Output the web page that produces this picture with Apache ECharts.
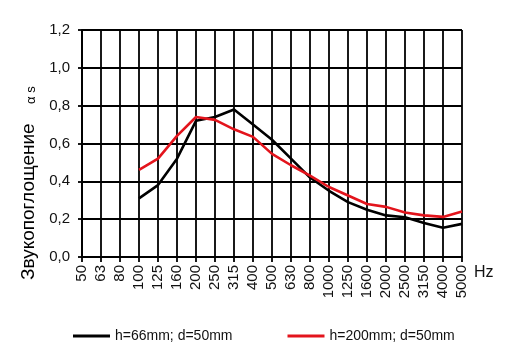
<!DOCTYPE html>
<html>
<head>
<meta charset="utf-8">
<script src="https://cdn.jsdelivr.net/npm/echarts@6/dist/echarts.min.js"></script>
<style>html,body{margin:0;padding:0;background:#fff;}#c{width:509px;height:363px;}</style>
</head>
<body>
<div id="c"></div>
<script>
const categories = ['50','63','80','100','125','160','200','250','315','400','500','630','800','1000','1250','1600','2000','2500','3150','4000','5000'];
const seriesNames = ['h=66mm; d=50mm', 'h=200mm; d=50mm'];
const blackValues = [null,null,null,0.31,0.38,0.52,0.72,0.74,0.78,0.70,0.62,0.52,0.42,0.35,0.29,0.25,0.22,0.21,0.18,0.155,0.175];
const redValues   = [null,null,null,0.46,0.52,0.64,0.74,0.725,0.675,0.635,0.545,0.485,0.43,0.37,0.325,0.28,0.265,0.235,0.22,0.212,0.24];
const yTicks = [0, 0.2, 0.4, 0.6, 0.8, 1.0, 1.2];

const chart = echarts.init(document.getElementById('c'), null, {renderer: 'canvas'});
const font = 'Liberation Sans, Arial, sans-serif';
chart.setOption({
  animation: false,
  backgroundColor: '#fff',
  grid: {left: 82, right: 47, top: 30, bottom: 106, containLabel: false},
  xAxis: {
    type: 'category',
    data: categories,
    boundaryGap: false,
    axisLine: {lineStyle: {color: '#000', width: 2}},
    axisTick: {show: true, length: 5, alignWithLabel: true, lineStyle: {color: '#000', width: 1.8}},
    axisLabel: {rotate: 90, interval: 0, margin: 8, fontSize: 15, color: '#111', fontFamily: font},
    splitLine: {show: true, lineStyle: {color: '#000', width: 1.8}}
  },
  yAxis: {
    type: 'value',
    min: yTicks[0],
    max: yTicks[yTicks.length - 1],
    interval: 0.2,
    axisLine: {show: true, lineStyle: {color: '#000', width: 2}},
    axisTick: {show: true, length: 4, lineStyle: {color: '#000', width: 1.8}},
    axisLabel: {margin: 12, fontSize: 15, color: '#111', fontFamily: font,
      formatter: v => v.toFixed(1).replace('.', ',')},
    splitLine: {show: true, lineStyle: {color: '#000', width: 1.8}}
  },
  legend: {
    left: 68, top: 324,
    icon: 'rect', itemWidth: 37, itemHeight: 3, itemGap: 55,
    textStyle: {fontSize: 14, color: '#111', fontFamily: font},
    data: seriesNames
  },
  series: [
    {name: seriesNames[0], type: 'line', data: blackValues, symbol: 'none',
      lineStyle: {color: '#000', width: 2.6}, itemStyle: {color: '#000'}},
    {name: seriesNames[1], type: 'line', data: redValues, symbol: 'none',
      lineStyle: {color: '#e3141c', width: 2.6}, itemStyle: {color: '#e3141c'}}
  ],
  graphic: [
    {type: 'text', x: 38, y: 280, rotation: Math.PI / 2,
      style: {text: 'Звукопоглощение', fontSize: 19, fontFamily: font, fill: '#000', align: 'left', verticalAlign: 'bottom'}},
    {type: 'text', x: 38, y: 104, rotation: Math.PI / 2,
      style: {text: 'α s', fontSize: 13, fontFamily: font, fill: '#000', align: 'left', verticalAlign: 'bottom'}},
    {type: 'text', x: 474, y: 273,
      style: {text: 'Hz', fontSize: 16, fontFamily: font, fill: '#111', align: 'left', verticalAlign: 'middle'}}
  ]
});
</script>
</body>
</html>
